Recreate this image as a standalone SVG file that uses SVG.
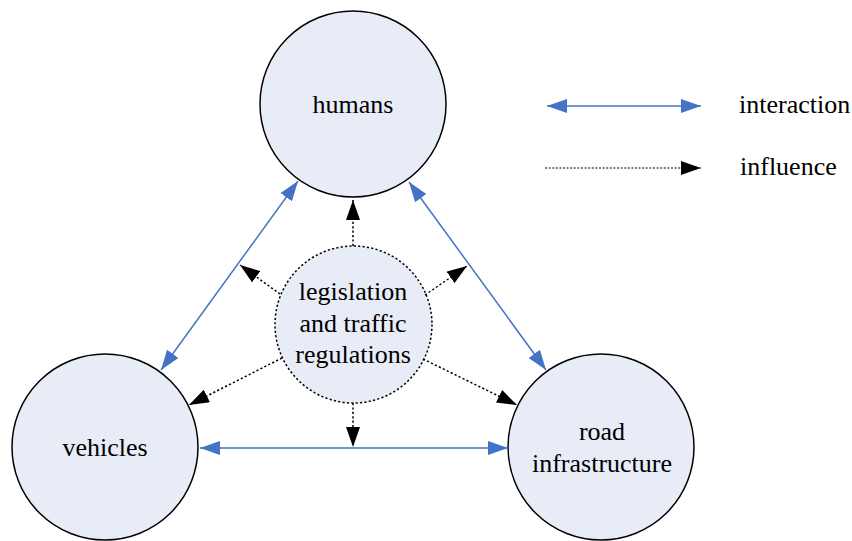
<svg xmlns="http://www.w3.org/2000/svg" width="852" height="541" viewBox="0 0 852 541">
<style>
.node{fill:#E8ECF7;stroke:#000;stroke-width:1.5}
.dash{stroke-dasharray:2.2 2.2}
.inter{stroke:#4472C4;stroke-width:1.5;fill:none;marker-start:url(#blue);marker-end:url(#blue)}
.infl{stroke:#000;stroke-width:1.5;fill:none;stroke-dasharray:2.2 2.2;marker-end:url(#black)}
</style>
<defs>
<marker id="blue" viewBox="0 0 20 14" refX="20" refY="7" markerWidth="20" markerHeight="14" markerUnits="userSpaceOnUse" orient="auto-start-reverse">
<path d="M0,0 L20,7 L0,14 z" fill="#4472C4"/>
</marker>
<marker id="black" viewBox="0 0 20 14" refX="20" refY="7" markerWidth="20" markerHeight="14" markerUnits="userSpaceOnUse" orient="auto">
<path d="M0,0 L20,7 L0,14 z" fill="#000"/>
</marker>
</defs>
<rect width="852" height="541" fill="#fff"/>
<g id="humans">
<circle class="node" cx="353" cy="104" r="93"/>
<text x="353" y="113" text-anchor="middle" font-family="Liberation Serif" font-size="26">humans</text>
</g>
<g id="vehicles">
<circle class="node" cx="105" cy="447" r="93"/>
<text x="105" y="456" text-anchor="middle" font-family="Liberation Serif" font-size="26">vehicles</text>
</g>
<g id="road">
<circle class="node" cx="601" cy="447" r="93"/>
<text x="602" y="440" text-anchor="middle" font-family="Liberation Serif" font-size="26">road</text>
<text x="602" y="472" text-anchor="middle" font-family="Liberation Serif" font-size="26">infrastructure</text>
</g>
<g id="legislation">
<circle class="node dash" cx="353.5" cy="324.5" r="78.5"/>
<text x="353" y="300" text-anchor="middle" font-family="Liberation Serif" font-size="26">legislation</text>
<text x="353" y="332" text-anchor="middle" font-family="Liberation Serif" font-size="26">and traffic</text>
<text x="353" y="363" text-anchor="middle" font-family="Liberation Serif" font-size="26">regulations</text>
</g>
<g id="connectors">
<line class="inter" x1="298" y1="181" x2="161" y2="370"/>
<line class="inter" x1="409" y1="182" x2="546" y2="370"/>
<line class="inter" x1="200" y1="448" x2="508" y2="448"/>
<line class="infl" x1="353" y1="246" x2="353" y2="200"/>
<line class="infl" x1="353" y1="403" x2="353" y2="447"/>
<line class="infl" x1="280" y1="294" x2="240" y2="265"/>
<line class="infl" x1="425" y1="295" x2="467" y2="266"/>
<line class="infl" x1="282" y1="358" x2="189" y2="405"/>
<line class="infl" x1="423" y1="359" x2="517" y2="405"/>
</g>
<g id="legend">
<line class="inter" x1="547" y1="106" x2="701" y2="106"/>
<text x="739" y="113" font-family="Liberation Serif" font-size="26">interaction</text>
<line class="infl" x1="545" y1="168" x2="701" y2="168" style="stroke-width:1;stroke-dasharray:2 1.6"/>
<text x="740" y="175" font-family="Liberation Serif" font-size="26">influence</text>
</g>
</svg>
